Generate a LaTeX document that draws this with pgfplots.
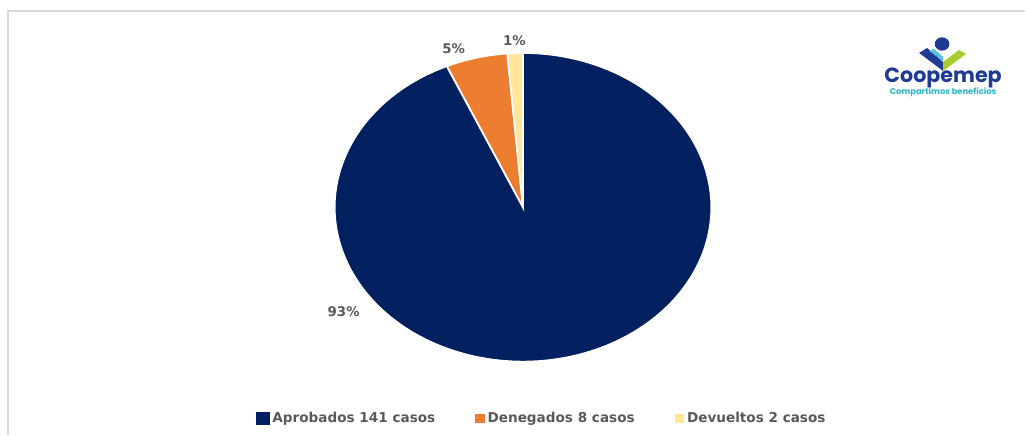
\documentclass[border=0pt]{standalone}
\usepackage{pgfplots}
\pgfplotsset{compat=1.18}
\usepackage{pgfplotstable}
\usepackage{graphicx}
\usepackage{fontspec}
\setmainfont{DejaVu Sans}
\newfontfamily\logofont{Poppins}
\definecolor{navy}{HTML}{002060}
\definecolor{orng}{HTML}{ED7D31}
\definecolor{yell}{HTML}{FFE699}
\definecolor{txtgray}{HTML}{595959}
\definecolor{bordergray}{HTML}{D9D9D9}
\definecolor{logoteal}{HTML}{2BB5C8}
\definecolor{logogreen}{HTML}{A8CC2E}
\definecolor{logoblue}{HTML}{56BFE0}
\definecolor{logonavy}{HTML}{1F3A93}

\pgfplotstableread{
label value
Aprobados 141
Denegados 8
Devueltos 2
}\piedata
\def\cx{523.5}
\def\cy{207.5}
\def\rx{188.5}
\def\ry{154.5}

\begin{document}
\begin{tikzpicture}
\pgfplotstablegetelem{0}{value}\of\piedata \let\va\pgfplotsretval
\pgfplotstablegetelem{1}{value}\of\piedata \let\vb\pgfplotsretval
\pgfplotstablegetelem{2}{value}\of\piedata \let\vc\pgfplotsretval
\pgfmathsetmacro\tot{\va+\vb+\vc}
\pgfmathsetmacro\fA{\va/\tot}
\pgfmathsetmacro\fB{\vb/\tot}
\pgfmathsetmacro\fC{\vc/\tot}
\pgfmathsetmacro\aA{90}
\pgfmathsetmacro\aB{90-360*\fA}
\pgfmathsetmacro\aC{\aB-360*\fB}
\pgfmathsetmacro\aD{\aC-360*\fC}
\begin{axis}[
  scale only axis,
  width=769.5pt, height=326.25pt,
  xmin=0, xmax=1026, ymin=0, ymax=435,
  y dir=reverse,
  hide axis,
  clip=false,
  legend columns=3,
  legend style={at={(axis cs:256,419)}, anchor=west, draw=none, fill=none,
    inner sep=0pt, font=\fontsize{10.2}{12}\selectfont\bfseries, text=txtgray,
    /tikz/every even column/.append style={column sep=28pt},
    nodes={inner sep=2pt}},
]
\path (axis cs:0,0) rectangle (axis cs:1026,435);
\addplot[fill=navy, draw=white, line width=1.3pt, domain=\aB:\aA, samples=240, variable=\t,
  legend image code/.code={\fill[navy] (0pt,-4.5pt) rectangle (9pt,4.5pt);}]
  ({\cx+\rx*cos(\t)},{\cy-\ry*sin(\t)}) -- (\cx,\cy) -- cycle;
\addlegendentry{Aprobados 141 casos}
\addplot[fill=orng, draw=white, line width=1.3pt, domain=\aC:\aB, samples=30, variable=\t,
  legend image code/.code={\fill[orng] (3pt,-3pt) rectangle (9pt,3pt);}]
  ({\cx+\rx*cos(\t)},{\cy-\ry*sin(\t)}) -- (\cx,\cy) -- cycle;
\addlegendentry{Denegados 8 casos}
\addplot[fill=yell, draw=white, line width=1.3pt, domain=\aD:\aC, samples=10, variable=\t,
  legend image code/.code={\fill[yell] (3pt,-3pt) rectangle (9pt,3pt);}]
  ({\cx+\rx*cos(\t)},{\cy-\ry*sin(\t)}) -- (\cx,\cy) -- cycle;
\addlegendentry{Devueltos 2 casos}

\node[text=txtgray, font=\fontsize{10}{12}\selectfont\bfseries] at (axis cs:344,312) {93\%};
\node[text=txtgray, font=\fontsize{10}{12}\selectfont\bfseries] at (axis cs:454,49) {5\%};
\node[text=txtgray, font=\fontsize{10}{12}\selectfont\bfseries] at (axis cs:515,41) {1\%};

% frame
\draw[bordergray, line width=1.5pt] (axis cs:8,435) -- (axis cs:8,11) -- (axis cs:1026,11);

% logo
\fill[logonavy] (axis cs:943,44) ellipse [x radius=5.5pt, y radius=5pt];
\fill[logonavy] (axis cs:920,53) -- (axis cs:928,48) -- (axis cs:944,62) -- (axis cs:944,71) -- cycle;
\fill[logoblue] (axis cs:930,51) -- (axis cs:935,49) -- (axis cs:944,57) -- (axis cs:944,61) -- cycle;
\fill[logogreen] (axis cs:944,71) -- (axis cs:944,62) -- (axis cs:960,50) -- (axis cs:967,54) -- cycle;
\node[text=logonavy, inner sep=0pt] at (axis cs:944,78)
  {\resizebox{88pt}{!}{\logofont\bfseries Coopemep}};
\node[text=logoteal, inner sep=0pt] at (axis cs:944,92)
  {\resizebox{80pt}{!}{\logofont\bfseries Compartimos beneficios}};
\end{axis}
\end{tikzpicture}
\end{document}
